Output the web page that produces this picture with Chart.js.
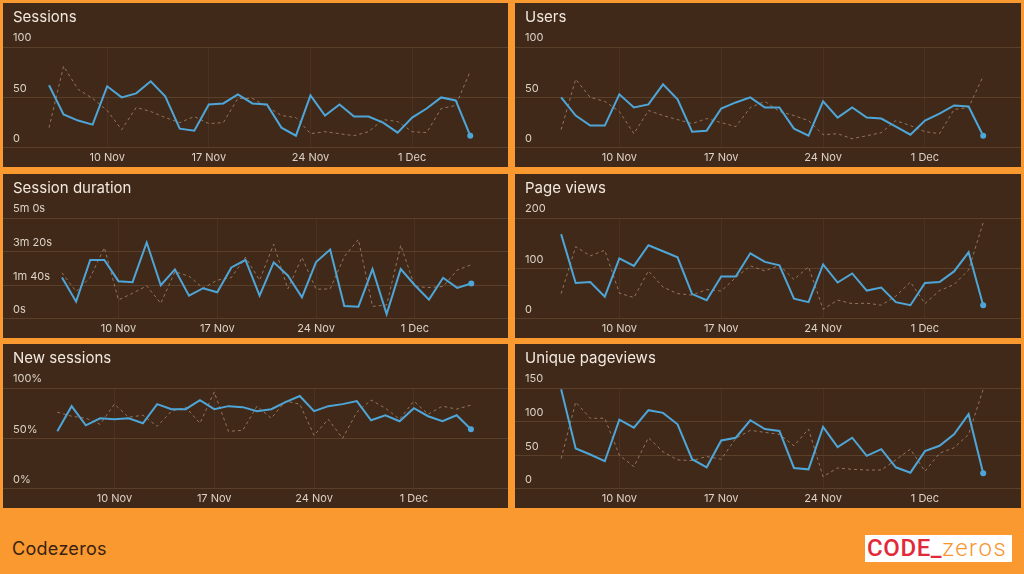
<!DOCTYPE html>
<html>
<head>
<meta charset="utf-8">
<script src="https://cdn.jsdelivr.net/npm/chart.js@4"></script>
<style>
  body { margin: 0; width: 1024px; height: 574px; background: #f9992f; position: relative; overflow: hidden; font-family: Inter, "Noto Sans", sans-serif; }
  .panel { position: absolute; width: 505px; height: 164px; background: #402918; }
  .panel canvas { position: absolute; left: 0; top: 0; }
  .panel .ttl { position: absolute; left: 10px; top: 5px; font-size: 15px; line-height: 18px; color: #f1e9e1; }
  .footer { position: absolute; left: 12px; top: 538px; font-size: 18px; letter-spacing: 0.3px; color: #3a220f; }
  .logo { position: absolute; left: 865px; top: 535px; width: 147px; height: 27px; background: #fff; font-family: Roboto, sans-serif; font-size: 24px; line-height: 27px; letter-spacing: 0.6px; text-indent: 2px; white-space: nowrap; overflow: hidden; }
  .logo .a { color: #e2293a; font-weight: 500; }
  .logo .b { color: #f7962b; font-weight: 300; letter-spacing: 1.5px; }
</style>
</head>
<body>
<div class="panel" style="left:3px;top:3px"><canvas id="c1" width="505" height="164"></canvas><div class="ttl">Sessions</div></div>
<div class="panel" style="left:515px;top:3px;width:506px"><canvas id="c2" width="506" height="164"></canvas><div class="ttl">Users</div></div>
<div class="panel" style="left:3px;top:174px"><canvas id="c3" width="505" height="164"></canvas><div class="ttl">Session duration</div></div>
<div class="panel" style="left:515px;top:174px;width:506px"><canvas id="c4" width="506" height="164"></canvas><div class="ttl">Page views</div></div>
<div class="panel" style="left:3px;top:344px"><canvas id="c5" width="505" height="164"></canvas><div class="ttl">New sessions</div></div>
<div class="panel" style="left:515px;top:344px;width:506px"><canvas id="c6" width="506" height="164"></canvas><div class="ttl">Unique pageviews</div></div>
<div class="footer">Codezeros</div>
<div class="logo"><span class="a">CODE_</span><span class="b">zeros</span></div>
<script>
// days shown on the x axis (6 Nov - 5 Dec)
const days = ['6 Nov', '7 Nov', '8 Nov', '9 Nov', '10 Nov', '11 Nov', '12 Nov', '13 Nov', '14 Nov', '15 Nov',
  '16 Nov', '17 Nov', '18 Nov', '19 Nov', '20 Nov', '21 Nov', '22 Nov', '23 Nov', '24 Nov', '25 Nov',
  '26 Nov', '27 Nov', '28 Nov', '29 Nov', '30 Nov', '1 Dec', '2 Dec', '3 Dec', '4 Dec', '5 Dec'];
const xTickLabels = ['10 Nov', '17 Nov', '24 Nov', '1 Dec'];

const sessions = [62, 33, 27, 23, 61, 50, 54, 66, 51, 19, 17, 43, 44, 53, 44, 43, 20, 12, 52, 32, 43, 31, 31, 25, 15, 30, 39, 50, 47, 12];
const sessionsPrev = [20, 81, 58, 49, 37, 18, 40, 36, 30, 25, 31, 24, 25, 49, 49, 41, 32, 30, 14, 16, 14, 12, 16, 28, 26, 16, 15, 39, 42, 76];
const sessionsTicks = [0, 50, 100];

const users = [50, 32, 22, 22, 53, 40, 43, 63, 48, 16, 17, 39, 45, 50, 40, 40, 19, 12, 46, 30, 40, 30, 29, 21, 13, 27, 34, 42, 41, 12];
const usersPrev = [18, 68, 50, 46, 36, 14, 37, 32, 28, 24, 29, 25, 21, 40, 46, 36, 32, 27, 13, 14, 9, 12, 15, 27, 22, 16, 14, 38, 40, 71];
const usersTicks = [0, 50, 100];

// seconds
const duration = [123, 51, 175, 175, 112, 109, 227, 100, 147, 69, 91, 79, 153, 175, 69, 168, 129, 64, 169, 206, 38, 36, 148, 14, 148, 100, 57, 122, 92, 105];
const durationPrev = [137, 81, 123, 212, 56, 76, 98, 46, 140, 127, 91, 115, 123, 183, 115, 222, 89, 183, 88, 89, 185, 236, 37, 41, 219, 96, 93, 96, 145, 161];
const durationTicks = [0, 100, 200, 300];

const pageViews = [168, 71, 73, 44, 120, 105, 146, 134, 122, 49, 37, 84, 84, 130, 113, 106, 40, 33, 108, 72, 90, 56, 62, 33, 27, 71, 73, 94, 132, 27];
const pageViewsPrev = [50, 143, 125, 136, 51, 42, 95, 63, 50, 47, 58, 55, 82, 105, 95, 106, 78, 103, 19, 37, 30, 31, 27, 45, 73, 30, 56, 68, 97, 191];
const pageViewsTicks = [0, 100, 200];

// percent
const newSessions = [57, 82, 63, 70, 69, 70, 65, 84, 79, 79, 88, 79, 82, 81, 77, 79, 86, 92, 77, 82, 84, 87, 68, 73, 67, 80, 72, 67, 73, 59];
const newSessionsPrev = [76, 72, 70, 64, 84, 71, 73, 62, 77, 81, 65, 96, 57, 58, 82, 70, 87, 84, 53, 69, 50, 76, 88, 80, 69, 87, 74, 82, 79, 83];
const newSessionsTicks = [0, 50, 100];

const uniquePageviews = [148, 60, 51, 41, 103, 91, 117, 113, 96, 44, 32, 72, 76, 102, 89, 86, 31, 29, 92, 62, 76, 49, 59, 32, 24, 56, 64, 81, 111, 23];
const uniquePageviewsPrev = [45, 129, 105, 105, 50, 33, 76, 55, 43, 42, 48, 44, 75, 87, 84, 81, 64, 89, 18, 31, 29, 28, 28, 43, 59, 26, 53, 61, 81, 148];
const uniquePageviewsTicks = [0, 50, 100, 150];

const fmtNum = v => String(v);
const fmtPct = v => v + '%';
const fmtDur = v => v === 0 ? '0s' : Math.floor(v / 60) + 'm ' + (v % 60) + 's';

function makeChart(id, current, previous, yTicks, fmt, xMin) {
  const last = current.length - 1;
  return new Chart(document.getElementById(id), {
    type: 'line',
    data: {
      datasets: [{
        data: current.map((v, i) => ({ x: i, y: v })),
        borderColor: '#4ea6d8',
        backgroundColor: '#4ea6d8',
        borderWidth: 2,
        pointRadius: ctx => ctx.dataIndex === last ? 3 : 0,
        pointBorderWidth: 0,
        tension: 0
      }, {
        data: previous.map((v, i) => ({ x: i, y: v })),
        borderColor: 'rgba(176, 142, 118, 0.75)',
        borderWidth: 1,
        borderDash: [3, 3],
        pointRadius: 0,
        tension: 0
      }]
    },
    options: {
      responsive: false,
      animation: false,
      layout: { autoPadding: false, padding: { top: 44, bottom: 0, left: 0, right: 0 } },
      plugins: {
        legend: { display: false },
        tooltip: { enabled: false }
      },
      scales: {
        x: {
          type: 'linear',
          min: xMin,
          max: 31.6,
          afterBuildTicks: scale => {
            scale.ticks = xTickLabels.map(l => ({ value: days.indexOf(l) }));
          },
          ticks: {
            callback: v => days[v],
            color: '#ddd2c7',
            font: { family: 'Inter', size: 11 },
            padding: 3,
            maxRotation: 0
          },
          grid: { color: 'rgba(110, 80, 58, 0.25)', drawTicks: false },
          border: { display: false }
        },
        y: {
          min: 0,
          max: yTicks[yTicks.length - 1],
          afterBuildTicks: scale => {
            scale.ticks = yTicks.map(v => ({ value: v }));
          },
          afterFit: scale => { scale.width = 0; },
          ticks: {
            mirror: true,
            padding: 10,
            labelOffset: -9,
            callback: fmt,
            color: '#ddd2c7',
            font: { family: 'Inter', size: 11 }
          },
          grid: { color: '#5a3f2b', drawTicks: false },
          border: { display: false }
        }
      }
    }
  });
}

makeChart('c1', sessions, sessionsPrev, sessionsTicks, fmtNum, -3.17);
makeChart('c2', users, usersPrev, usersTicks, fmtNum, -3.17);
makeChart('c3', duration, durationPrev, durationTicks, fmtDur, -4.18);
makeChart('c4', pageViews, pageViewsPrev, pageViewsTicks, fmtNum, -3.17);
makeChart('c5', newSessions, newSessionsPrev, newSessionsTicks, fmtPct, -3.81);
makeChart('c6', uniquePageviews, uniquePageviewsPrev, uniquePageviewsTicks, fmtNum, -3.17);
</script>
</body>
</html>
